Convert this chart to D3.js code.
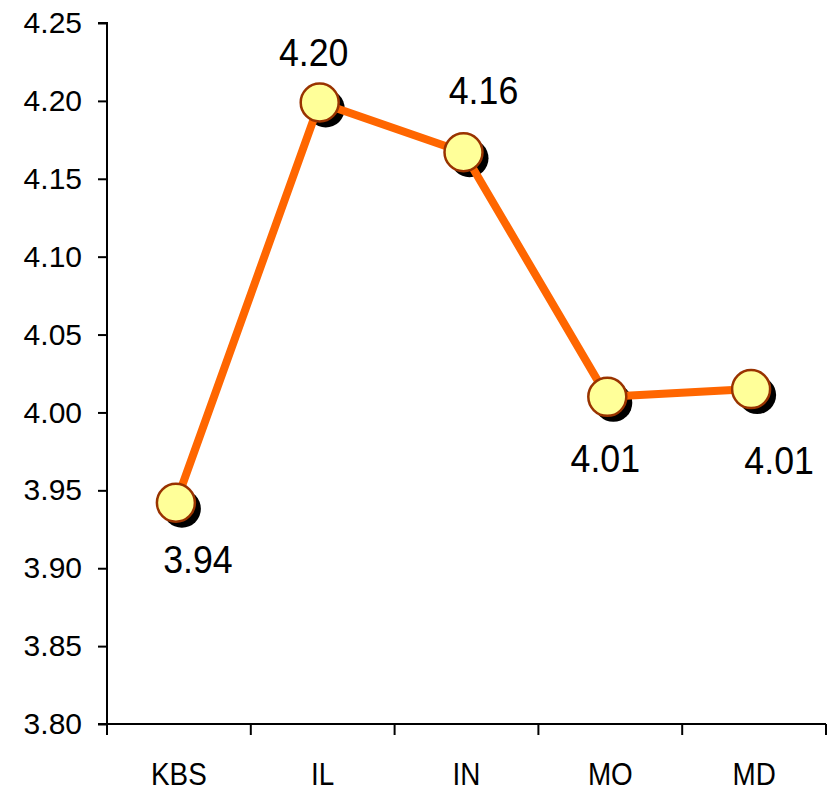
<!DOCTYPE html>
<html>
<head>
<meta charset="utf-8">
<script src="https://cdn.jsdelivr.net/npm/d3@7"></script>
<style>
  html, body { margin: 0; padding: 0; background: #fff; }
  svg { display: block; font-family: "Liberation Sans", Arial, sans-serif; }
</style>
</head>
<body>
<svg id="chart"></svg>
<script>
const width = 831, height = 790;

// data
const categories = ['KBS', 'IL', 'IN', 'MO', 'MD'];
const values = [3.942, 4.199, 4.167, 4.010, 4.015];
const valueLabels = ['3.94', '4.20', '4.16', '4.01', '4.01'];
const yTicks = [3.80, 3.85, 3.90, 3.95, 4.00, 4.05, 4.10, 4.15, 4.20, 4.25];

// label nudges (layout only, px from point centre)
const labelDx = [22, -6, 20, -2, 28];
const labelDy = [70, -36, -48, 75, 85];

const margin = {left: 107, right: 5, top: 23, bottom: 66};

const svg = d3.select('#chart').attr('width', width).attr('height', height);

const x = d3.scaleBand().domain(categories).range([margin.left, width - margin.right]);
const y = d3.scaleLinear().domain([3.80, 4.25]).range([height - margin.bottom, margin.top]);

// y axis
const yAxis = svg.append('g')
    .attr('transform', `translate(${margin.left},0)`)
    .call(d3.axisLeft(y).tickValues(yTicks).tickFormat(d3.format('.2f')).tickSize(9).tickPadding(16));
yAxis.select('.domain').attr('d', `M0,${y(3.80)}V${y(4.25)}H-9`).attr('stroke-width', 2);
yAxis.selectAll('.tick line').attr('stroke-width', 2);
yAxis.selectAll('.tick text').attr('font-size', 30).attr('fill', '#000');

// x axis - ticks sit between categories
const xAxis = svg.append('g').attr('transform', `translate(0,${y(3.80)})`);
xAxis.append('line')
    .attr('x1', margin.left - 9).attr('x2', x.range()[1])
    .attr('stroke', '#000').attr('stroke-width', 2);
const bounds = categories.map(c => x(c)).concat([x.range()[1]]);
xAxis.selectAll('.xt').data(bounds).join('line')
    .attr('x1', d => d).attr('x2', d => d)
    .attr('y1', 0).attr('y2', 11)
    .attr('stroke', '#000').attr('stroke-width', 2);
xAxis.selectAll('.xl').data(categories).join('text')
    .attr('transform', d => `translate(${x(d) + x.bandwidth() / 2},61) scale(0.87,1)`)
    .attr('text-anchor', 'middle')
    .attr('font-size', 32)
    .text(d => d);

const pts = categories.map((c, i) => ({cx: x(c) + x.bandwidth() / 2 - 3, cy: y(values[i]), i}));

// shadows
svg.append('g').selectAll('circle').data(pts).join('circle')
    .attr('cx', d => d.cx + 6).attr('cy', d => d.cy + 6).attr('r', 19)
    .attr('fill', '#000');

// line
svg.append('path')
    .datum(pts)
    .attr('d', d3.line().x(d => d.cx).y(d => d.cy))
    .attr('fill', 'none')
    .attr('stroke', '#ff6600')
    .attr('stroke-width', 8)
    .attr('stroke-linejoin', 'round');

// markers
svg.append('g').selectAll('circle').data(pts).join('circle')
    .attr('cx', d => d.cx).attr('cy', d => d.cy).attr('r', 19)
    .attr('fill', '#ffff99')
    .attr('stroke', '#993300')
    .attr('stroke-width', 2.5);

// value labels
svg.append('g').selectAll('text').data(pts).join('text')
    .attr('transform', d => `translate(${d.cx + labelDx[d.i]},${d.cy + labelDy[d.i]}) scale(0.94,1)`)
    .attr('text-anchor', 'middle')
    .attr('font-size', 38)
    .text(d => valueLabels[d.i]);
</script>
</body>
</html>
